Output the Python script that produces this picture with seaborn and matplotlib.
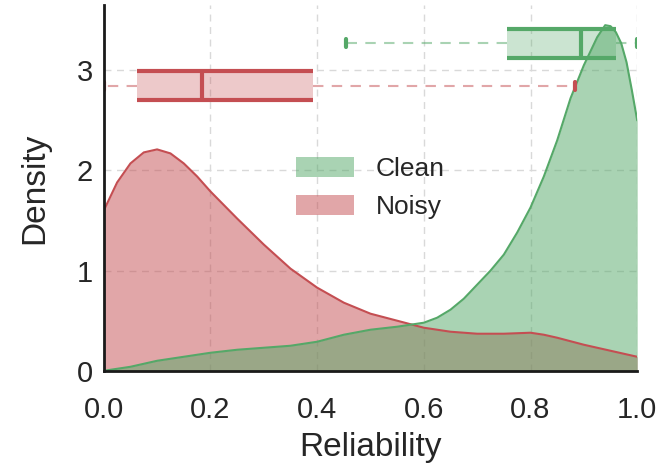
import numpy as np
import matplotlib
matplotlib.use("Agg")
import matplotlib.pyplot as plt
import seaborn as sns

# density curves
clean_x = [0.0, 0.05, 0.1, 0.15, 0.2, 0.25, 0.3, 0.35, 0.4, 0.45, 0.5, 0.55, 0.6,
           0.625, 0.65, 0.675, 0.7, 0.725, 0.75, 0.775, 0.8, 0.825, 0.85, 0.875,
           0.9, 0.925, 0.94, 0.95, 0.96, 0.97, 0.98, 0.99, 1.0]
clean_y = [0.0, 0.04, 0.10, 0.14, 0.18, 0.21, 0.23, 0.25, 0.29, 0.36, 0.41, 0.44, 0.48,
           0.53, 0.61, 0.72, 0.86, 1.00, 1.16, 1.38, 1.63, 1.94, 2.30, 2.72,
           3.05, 3.33, 3.45, 3.44, 3.38, 3.27, 3.08, 2.80, 2.50]

noisy_x = [0.0, 0.025, 0.05, 0.075, 0.1, 0.125, 0.15, 0.175, 0.2, 0.25, 0.3, 0.35,
           0.4, 0.45, 0.5, 0.55, 0.6, 0.65, 0.7, 0.75, 0.8, 0.825, 0.85, 0.9, 0.95, 1.0]
noisy_y = [1.60, 1.88, 2.07, 2.18, 2.21, 2.17, 2.07, 1.94, 1.79, 1.52, 1.26, 1.02,
           0.83, 0.68, 0.57, 0.50, 0.43, 0.39, 0.37, 0.37, 0.38, 0.36, 0.33, 0.26, 0.20, 0.14]

# box summaries: whislo, q1, median, q3, whishi
clean_box = [0.454, 0.756, 0.894, 0.961, 1.0]
noisy_box = [0.0, 0.062, 0.184, 0.392, 0.883]
box_pos = {"Clean": 3.27, "Noisy": 2.845}

green = "#55a868"
red = "#c44e52"

sns.set_theme(style="whitegrid")
plt.rcParams["font.family"] = ["Liberation Sans", "DejaVu Sans"]

fig = plt.figure(figsize=(6.61, 4.67), dpi=100)
ax = fig.add_axes([0.157, 0.206, 0.807, 0.783])

# noisy first so the clean fill sits on top
for name, xs, ys, col in [("Noisy", noisy_x, noisy_y, red), ("Clean", clean_x, clean_y, green)]:
    ax.fill_between(xs, ys, color=col, alpha=0.5, lw=0, label=name)
    sns.lineplot(x=xs, y=ys, color=col, lw=1.5, ax=ax)

# boxplots on top
bw = 0.29
for name, st, col in [("Clean", clean_box, green), ("Noisy", noisy_box, red)]:
    pos = box_pos[name]
    stats = [dict(whislo=st[0], q1=st[1], med=st[2], q3=st[3], whishi=st[4], fliers=[])]
    ax.bxp(stats, positions=[pos], widths=bw, vert=False, patch_artist=True,
           showfliers=False, capwidths=0.08, manage_ticks=False,
           boxprops=dict(facecolor=col, alpha=0.3, edgecolor="none"),
           medianprops=dict(color=col, lw=3),
           whiskerprops=dict(color=col, lw=1.5, ls=(0, (5, 4)), alpha=0.5),
           capprops=dict(color=col, lw=3))
    ax.hlines([pos - bw / 2, pos + bw / 2], st[1], st[3], color=col, lw=3)

ax.set_xlim(0, 1)
ax.set_ylim(0, 3.65)
ax.set_xticks([0.0, 0.2, 0.4, 0.6, 0.8, 1.0])
ax.set_yticks([0, 1, 2, 3])
ax.set_xticklabels(["0.0", "0.2", "0.4", "0.6", "0.8", "1.0"])
ax.grid(True, ls=(0, (5, 4)), color="#d9d9d9", lw=1)
ax.set_axisbelow(True)
for s in ["top", "right"]:
    ax.spines[s].set_visible(False)
for s in ["left", "bottom"]:
    ax.spines[s].set_color("#1a1a1a")
    ax.spines[s].set_linewidth(2)
ax.tick_params(labelsize=21, colors="#262626", length=0)
ax.tick_params(axis="x", pad=18)
ax.tick_params(axis="y", pad=8)
ax.set_xlabel("Reliability", fontsize=24, color="#262626", labelpad=6)
ax.set_ylabel("Density", fontsize=24, color="#262626", labelpad=19)

# legend in the same order as the reference
h, l = ax.get_legend_handles_labels()
order = [l.index("Clean"), l.index("Noisy")]
ax.legend([h[i] for i in order], [l[i] for i in order], loc="center", frameon=False,
          fontsize=19, handlelength=2.2, handleheight=0.8, handletextpad=0.8,
          labelspacing=0.5)

fig.savefig("out.png", dpi=100)
